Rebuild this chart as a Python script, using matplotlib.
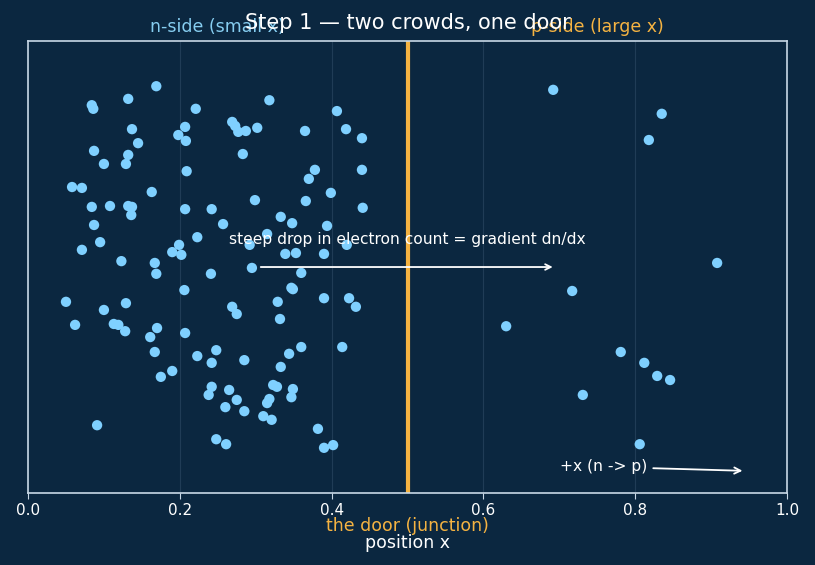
import matplotlib
matplotlib.use("Agg")
import matplotlib.pyplot as plt

# n-side (left crowd) electron positions
n_x = [0.169, 0.132, 0.084, 0.086, 0.221, 0.137, 0.207, 0.198, 0.208, 0.145,
       0.087, 0.132, 0.100, 0.129, 0.209, 0.058, 0.071, 0.163, 0.084, 0.108,
       0.132, 0.137, 0.136, 0.207, 0.087, 0.223, 0.095, 0.071, 0.199, 0.190,
       0.202, 0.123, 0.167, 0.318, 0.407, 0.269, 0.273, 0.277, 0.287, 0.302,
       0.365, 0.419, 0.440, 0.283, 0.378, 0.370, 0.440, 0.399, 0.299, 0.366,
       0.441, 0.242, 0.257, 0.333, 0.348, 0.394, 0.315, 0.292, 0.420, 0.339,
       0.353, 0.390, 0.295, 0.241, 0.360, 0.169, 0.206, 0.050, 0.100, 0.129,
       0.062, 0.113, 0.119, 0.128, 0.170, 0.161, 0.207, 0.167, 0.223, 0.190,
       0.175, 0.091, 0.347, 0.349, 0.329, 0.390, 0.423, 0.432, 0.269, 0.275,
       0.332, 0.248, 0.242, 0.285, 0.344, 0.360, 0.414, 0.333, 0.242, 0.238,
       0.265, 0.275, 0.260, 0.285, 0.323, 0.328, 0.318, 0.315, 0.349, 0.347,
       0.310, 0.321, 0.382, 0.248, 0.261, 0.390, 0.402]
n_y = [0.900, 0.872, 0.858, 0.850, 0.850, 0.805, 0.810, 0.792, 0.779, 0.774,
       0.757, 0.748, 0.728, 0.728, 0.712, 0.677, 0.675, 0.666, 0.633, 0.635,
       0.635, 0.633, 0.615, 0.628, 0.593, 0.566, 0.555, 0.538, 0.549, 0.533,
       0.527, 0.513, 0.509, 0.869, 0.845, 0.821, 0.812, 0.799, 0.801, 0.808,
       0.801, 0.805, 0.785, 0.750, 0.715, 0.695, 0.715, 0.664, 0.648, 0.646,
       0.631, 0.628, 0.595, 0.611, 0.597, 0.591, 0.573, 0.549, 0.549, 0.529,
       0.531, 0.529, 0.498, 0.485, 0.487, 0.485, 0.449, 0.423, 0.405, 0.420,
       0.372, 0.374, 0.372, 0.358, 0.365, 0.345, 0.354, 0.312, 0.303, 0.270,
       0.257, 0.150, 0.454, 0.451, 0.423, 0.431, 0.431, 0.412, 0.412, 0.396,
       0.385, 0.316, 0.288, 0.294, 0.308, 0.323, 0.323, 0.279, 0.235, 0.217,
       0.228, 0.206, 0.190, 0.181, 0.239, 0.235, 0.208, 0.199, 0.230, 0.212,
       0.170, 0.162, 0.142, 0.119, 0.108, 0.100, 0.106]

# p-side (right, sparse) electron positions
p_x = [0.692, 0.835, 0.818, 0.908, 0.717, 0.630, 0.781, 0.812, 0.829, 0.846,
       0.731, 0.806]
p_y = [0.892, 0.839, 0.781, 0.509, 0.447, 0.369, 0.312, 0.288, 0.259, 0.250,
       0.217, 0.108]

x_ticks = [0.0, 0.2, 0.4, 0.6, 0.8, 1.0]
junction_x = 0.5

BG = "#0b2740"
DOT = "#7fd0ff"
ORANGE = "#f5b342"
SPINE = "#c8d8e6"

fig = plt.figure(figsize=(8.15, 5.65), dpi=100, facecolor=BG)
ax = fig.add_axes([0.0344, 0.1274, 0.9312, 0.8000])
ax.set_facecolor(BG)

ax.scatter(n_x + p_x, n_y + p_y, s=55, color=DOT, edgecolors="none", zorder=3)
ax.axvline(junction_x, color=ORANGE, lw=3, zorder=2)

ax.set_xlim(0, 1)
ax.set_ylim(0, 1)
ax.set_xticks(x_ticks)
ax.set_xticklabels([f"{t:.1f}" for t in x_ticks])
ax.set_yticks([])
ax.grid(axis="x", color="#5a7590", alpha=0.28, lw=0.8)
for s in ax.spines.values():
    s.set_color(SPINE)
    s.set_linewidth(1.2)
ax.tick_params(axis="x", colors=SPINE, labelcolor="white", labelsize=11, length=4)

ax.set_title("Step 1 — two crowds, one door", color="white", fontsize=15, pad=9)
ax.text(0.25, 1.03, "n-side (small x)", transform=ax.transAxes, ha="center",
        va="center", color="#86cdf0", fontsize=12.5)
ax.text(0.75, 1.03, "p-side (large x)", transform=ax.transAxes, ha="center",
        va="center", color=ORANGE, fontsize=12.5)

ax.annotate("", xy=(0.695, 0.5), xytext=(0.303, 0.5),
            arrowprops=dict(arrowstyle="->", color="white", lw=1.3))
ax.text(0.5, 0.56, "steep drop in electron count = gradient dn/dx",
        ha="center", va="center", color="white", fontsize=11.2)

ax.annotate("+x (n -> p)", xy=(0.945, 0.049), xytext=(0.759, 0.058),
            ha="center", va="center", color="white", fontsize=11.2,
            arrowprops=dict(arrowstyle="->", color="white", lw=1.3))

ax.text(0.5, -0.072, "the door (junction)", transform=ax.transAxes,
        ha="center", va="center", color=ORANGE, fontsize=12.5)
ax.set_xlabel("position x", color="white", fontsize=12.5, labelpad=11)

fig.savefig("out.png", dpi=100, facecolor=BG)
